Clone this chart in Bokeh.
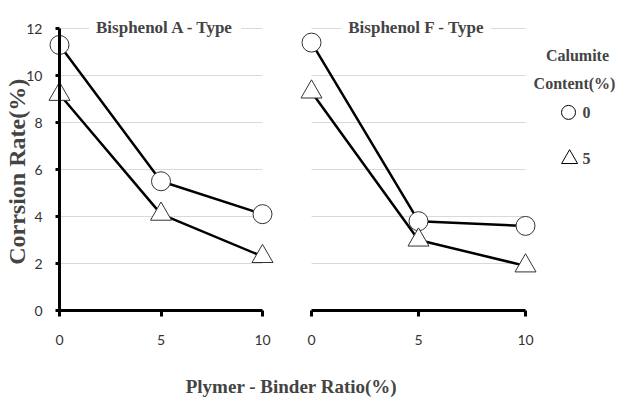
import math
from bokeh.plotting import figure
from bokeh.models import Range1d, LinearAxis, FixedTicker, Label
from bokeh.embed import file_html
from bokeh.resources import INLINE

# ---- data ----
x_ratio = [0, 5, 10]
a_cal0 = [11.3, 5.5, 4.1]
a_cal5 = [9.2, 4.1, 2.3]
f_cal0 = [11.4, 3.8, 3.6]
f_cal5 = [9.3, 3.0, 1.9]
y_ticks = [0, 2, 4, 6, 8, 10, 12]
grid_vals = [2, 4, 6, 8, 10, 12]
x_ticks = [0, 5, 10]
title_a = "Bisphenol A - Type"
title_f = "Bisphenol F - Type"
y_title = "Corrsion Rate(%)"
x_title = "Plymer - Binder Ratio(%)"
legend_title = ["Calumite", "Content(%)"]
legend_items = ["0", "5"]

# ---- layout (pixels inside the canvas) ----
W, H = 619, 399

def rng(p0, p1, v0, v1, lo, hi):
    # data range such that value v0 -> pixel p0 and v1 -> pixel p1 over frame [lo, hi]
    k = (v1 - v0) / (p1 - p0)
    return Range1d(v0 + (lo - p0) * k, v0 + (hi - p0) * k)

xl = rng(59, 262, 0, 10, 0, W)
xr = rng(311, 525, 0, 10, 0, W)
k_y = 12 / (310 - 28)
y_range = Range1d((310 - H) * k_y, 310 * k_y)

p = figure(width=W, height=H, x_range=xl, y_range=y_range,
           output_backend="svg", toolbar_location=None,
           min_border_left=0, min_border_right=0, min_border_top=0, min_border_bottom=0,
           x_axis_location=None, y_axis_location=None)
p.extra_x_ranges = {"right": xr}
p.outline_line_color = None
p.xgrid.visible = False
p.ygrid.visible = False
p.background_fill_color = "white"
p.border_fill_color = "white"

def style_axis(ax):
    ax.axis_line_width = 3
    ax.axis_line_color = "black"
    ax.major_tick_line_width = 3
    ax.major_tick_line_color = "black"
    ax.major_tick_out = 5
    ax.major_tick_in = 0
    ax.minor_tick_line_color = None
    ax.major_label_text_font = "Lato"
    ax.major_label_text_font_size = "14px"
    ax.major_label_text_color = "#333333"

yax = LinearAxis(ticker=FixedTicker(ticks=y_ticks), bounds=(0, 12), fixed_location=0)
style_axis(yax)
yax.major_tick_out = 4
yax.major_label_standoff = 13
p.add_layout(yax, "left")

xax_l = LinearAxis(ticker=FixedTicker(ticks=x_ticks), bounds=(0, 10), fixed_location=0)
style_axis(xax_l)
xax_l.major_tick_out = 6
xax_l.major_label_standoff = 18
p.add_layout(xax_l, "below")

xax_r = LinearAxis(ticker=FixedTicker(ticks=x_ticks), bounds=(0, 10), fixed_location=0,
                   x_range_name="right")
style_axis(xax_r)
xax_r.major_tick_out = 6
xax_r.major_label_standoff = 18
p.add_layout(xax_r, "below")

# gridlines (only across 0..10)
grid_color = "#d9d9d9"
p.segment(x0=[0] * len(grid_vals), x1=[10] * len(grid_vals), y0=grid_vals, y1=grid_vals,
          line_color=grid_color, line_width=1)
p.segment(x0=[0] * len(grid_vals), x1=[10] * len(grid_vals), y0=grid_vals, y1=grid_vals,
          line_color=grid_color, line_width=1, x_range_name="right")

# series
for ys, rn in [(a_cal0, "default"), (a_cal5, "default"), (f_cal0, "right"), (f_cal5, "right")]:
    p.line(x_ratio, ys, line_color="black", line_width=2.5, x_range_name=rn)

for ys, rn, mk, sz in [(a_cal0, "default", "circle", 19), (a_cal5, "default", "triangle", 21),
                       (f_cal0, "right", "circle", 19), (f_cal5, "right", "triangle", 21)]:
    p.scatter(x_ratio, ys, marker=mk, size=sz, fill_color="white", line_color="#333333",
              line_width=1, x_range_name=rn)

serif = "Liberation Serif"

# panel titles
p.add_layout(Label(x=5.2, y=12.05, text=title_a, text_align="center", text_baseline="middle",
                   text_font=serif, text_font_style="bold", text_font_size="17px",
                   background_fill_color="white", padding=7))
p.add_layout(Label(x=4.9, y=12.05, text=title_f, text_align="center", text_baseline="middle",
                   text_font=serif, text_font_style="bold", text_font_size="17px",
                   background_fill_color="white", padding=7, x_range_name="right"))

# axis titles
p.add_layout(Label(x=-2.07, y=5.9, text=y_title, angle=math.pi / 2, text_align="center",
                   text_baseline="middle", text_font=serif, text_font_style="bold",
                   text_font_size="24px"))
p.add_layout(Label(x=11.43, y=-3.25, text=x_title, text_align="center", text_baseline="middle",
                   text_font=serif, text_font_style="bold", text_font_size="19px"))

# legend
p.add_layout(Label(x=12.43, y=10.85, text=legend_title[0], text_align="center", text_baseline="middle",
                   text_font=serif, text_font_style="bold", text_font_size="16px",
                   x_range_name="right"))
p.add_layout(Label(x=12.29, y=9.66, text=legend_title[1], text_align="center", text_baseline="middle",
                   text_font=serif, text_font_style="bold", text_font_size="16px",
                   x_range_name="right"))
p.scatter([12.01], [8.43], marker="circle", size=14, fill_color="white", line_color="black",
          line_width=1, x_range_name="right")
p.scatter([12.06], [6.45], marker="triangle", size=16, fill_color="white", line_color="black",
          line_width=1, x_range_name="right")
for txt, yy in zip(legend_items, [8.43, 6.45]):
    p.add_layout(Label(x=12.66, y=yy, text=txt, text_align="left", text_baseline="middle",
                       text_font=serif, text_font_style="bold", text_font_size="16px",
                       x_range_name="right"))

open("out.html", "w").write(file_html(p, INLINE))
